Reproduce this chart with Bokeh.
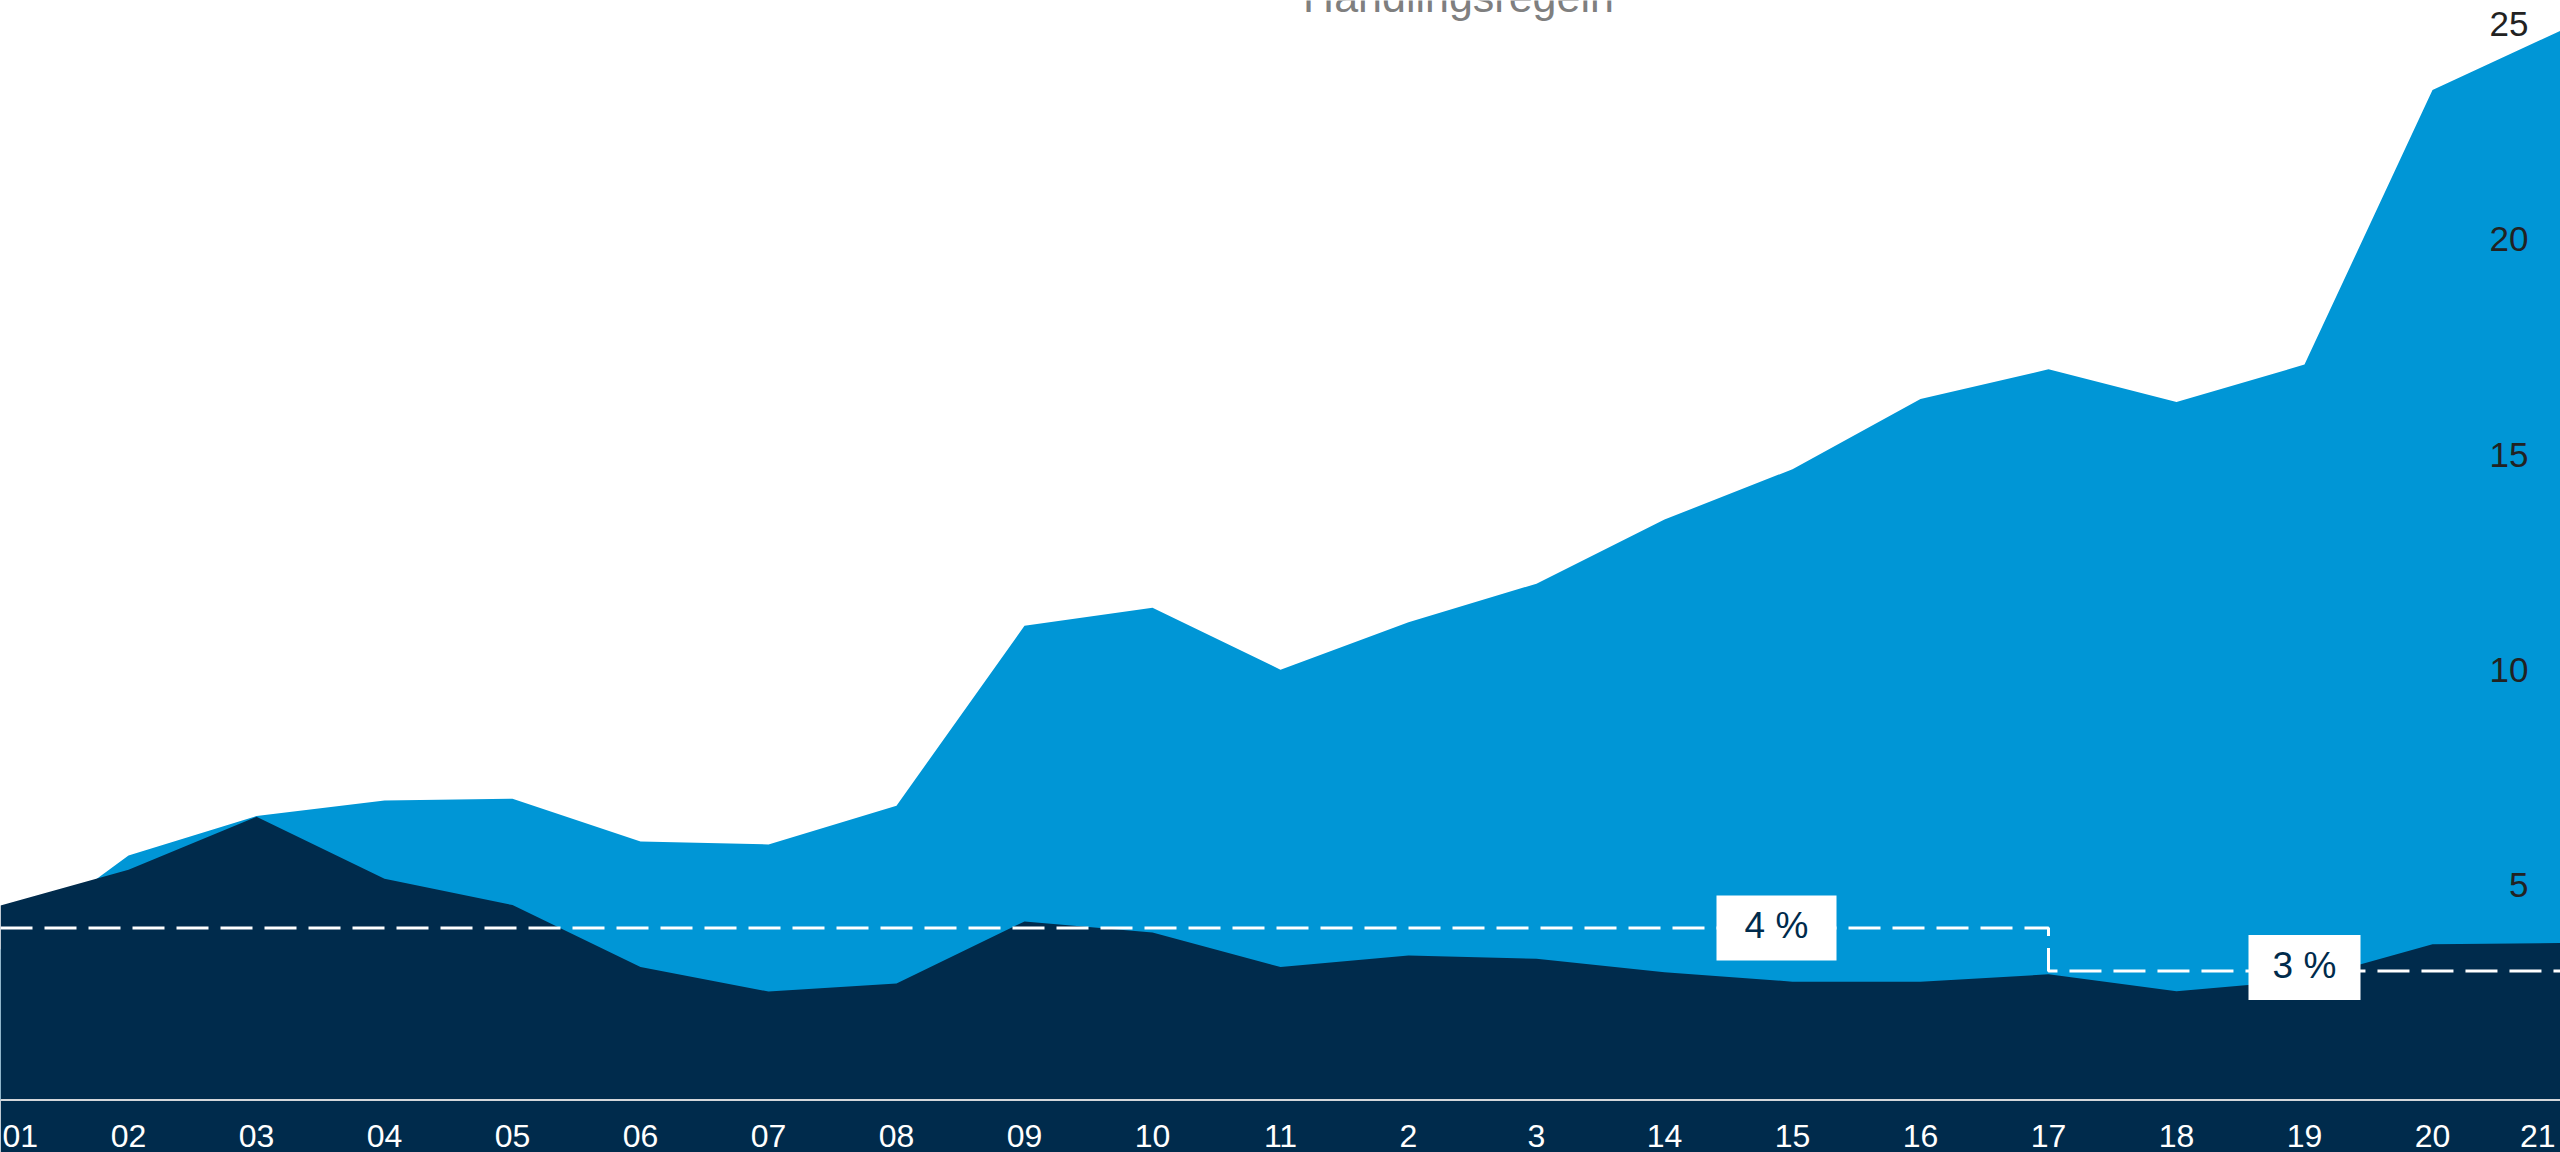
from bokeh.plotting import figure
from bokeh.models import ColumnDataSource, LabelSet, Label, BoxAnnotation, Span, Range1d
from bokeh.core.properties import value
from bokeh.embed import file_html
from bokeh.resources import INLINE

# ---------------- data ----------------
TITLE = "Handlingsregeln"
YEARS = ["01", "02", "03", "04", "05", "06", "07", "08", "09", "10", "11",
         "2", "3", "14", "15", "16", "17", "18", "19", "20", "21"]
# light-blue series (upper area)
BLUE_VALUES = [3.5, 5.68, 6.6, 6.96, 7.0, 6.01, 5.94, 6.84, 11.02, 11.44, 10.0,
               11.1, 12.0, 13.49, 14.66, 16.29, 16.98, 16.22, 17.09, 23.47, 24.85]
# dark navy series (lower area, drawn on top)
NAVY_VALUES = [4.52, 5.35, 6.58, 5.14, 4.53, 3.09, 2.52, 2.71, 4.15, 3.89, 3.09,
               3.36, 3.28, 2.97, 2.75, 2.75, 2.92, 2.53, 2.79, 3.62, 3.65]
# rule (dashed step line)
RULE_YEARS = ["01", "17", "17", "21"]
RULE_VALUES = [4, 4, 3, 3]
# rule annotations
ANNOT_TEXT = ["4 %", "3 %"]
ANNOT_X = [13.875, 18.0]
ANNOT_Y = [4, 3.08]
# y tick labels
Y_TICKS = [5, 10, 15, 20, 25]

# ---------------- style ----------------
BLUE = "#0096D6"
NAVY = "#002B4C"
FONT = "Liberation Sans, Arial, sans-serif"

idx = list(range(len(YEARS)))
pos = {y: i for i, y in enumerate(YEARS)}

p = figure(width=2560, height=1152,
           x_range=Range1d(0, 20), y_range=Range1d(-1.22, 25.552),
           output_backend="svg", toolbar_location=None,
           x_axis_location=None, y_axis_location=None,
           min_border=0, min_border_left=0, min_border_right=0,
           min_border_top=0, min_border_bottom=0)
p.outline_line_color = None
p.background_fill_color = "white"
p.border_fill_color = "white"
p.grid.visible = False

# navy fill below zero (area continues below axis line)
p.add_layout(BoxAnnotation(top=0, fill_color=NAVY, fill_alpha=1.0, line_color=None, level="underlay"))

src = ColumnDataSource(dict(x=idx, blue=BLUE_VALUES, navy=NAVY_VALUES))
p.varea(x="x", y1=0, y2="blue", source=src, fill_color=BLUE, fill_alpha=1.0)
p.varea(x="x", y1=0, y2="navy", source=src, fill_color=NAVY, fill_alpha=1.0)

# axis line at zero
p.add_layout(Span(location=0, dimension="width", line_color="#d3d6da", line_width=2))

# dashed rule
rule_src = ColumnDataSource(dict(x=[pos[y] for y in RULE_YEARS], y=RULE_VALUES))
p.line(x="x", y="y", source=rule_src, line_color="white", line_width=3, line_dash="32 12")

# annotation boxes
ann_src = ColumnDataSource(dict(x=ANNOT_X, y=ANNOT_Y, t=ANNOT_TEXT, w=[120, 112]))
p.rect(x="x", y="y", width="w", height=65, width_units="screen", height_units="screen",
       source=ann_src, fill_color="white", line_color=None)
p.text(x="x", y="y", text="t", source=ann_src, text_align="center", text_baseline="middle",
       text_font=value(FONT), text_font_size="37px", text_color=NAVY, y_offset=-2)

# y tick labels (inside, right)
ysrc = ColumnDataSource(dict(y=Y_TICKS, t=[str(v) for v in Y_TICKS]))
p.add_layout(LabelSet(x=2528, x_units="screen", y="y", text="t", source=ysrc,
                      text_align="right", text_baseline="middle",
                      text_font=value(FONT), text_font_size="35px", text_color="#222222"))

# x tick labels (white, at bottom)
n = len(YEARS)
aligns = ["left" if i == 0 else ("right" if i == n - 1 else "center") for i in idx]
dxs = [2 if i == 0 else (-5 if i == n - 1 else 0) for i in idx]
xsrc = ColumnDataSource(dict(x=idx, t=YEARS, a=aligns, dx=dxs))
p.add_layout(LabelSet(x="x", y=6, y_units="screen", text="t", source=xsrc,
                      text_align="a", x_offset="dx", text_baseline="alphabetic",
                      text_font=value(FONT), text_font_size="32px", text_color="white"))

# title (cropped at top, as in the reference)
p.add_layout(Label(x=1458, y=1156, x_units="screen", y_units="screen", text=TITLE,
                   text_align="center", text_baseline="alphabetic",
                   text_font=FONT, text_font_size="43px", text_color="#7f7f7f"))

open("out.html", "w").write(file_html(p, INLINE))
